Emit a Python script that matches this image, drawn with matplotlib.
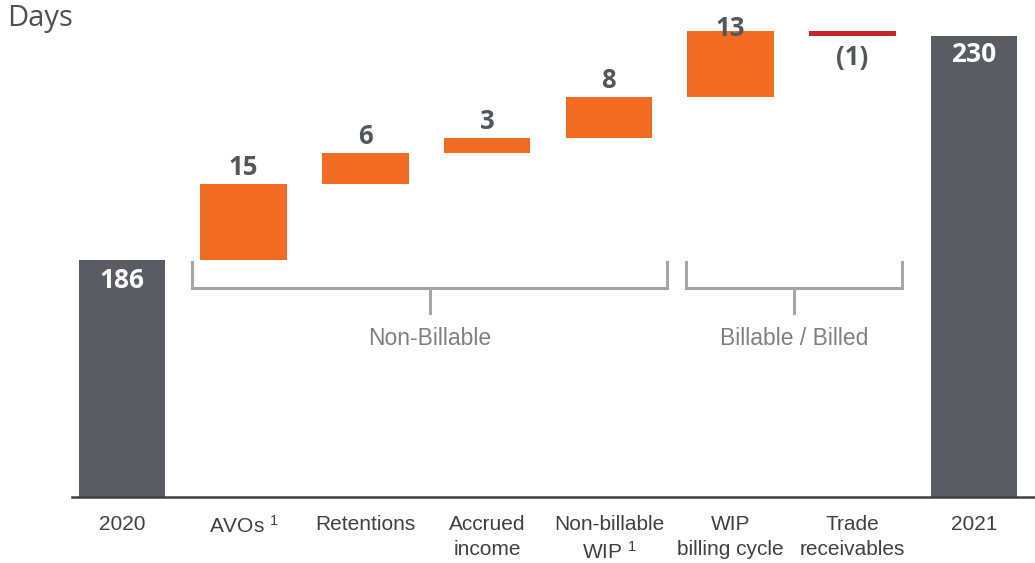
import numpy as np
import matplotlib.pyplot as plt

# data
categories = ['2020', 'AVOs $^{1}$', 'Retentions', 'Accrued\nincome', 'Non-billable\nWIP $^{1}$',
              'WIP\nbilling cycle', 'Trade\nreceivables', '2021']
start_value = 186
deltas = [15, 6, 3, 8, 13, -1]
end_value = 230
groups = ['Non-Billable', 'Billable / Billed']

# bracket extents (layout, in x data units)
bracket_x = [(0.575, 4.48), (4.63, 6.41)]

plt.rcParams['font.family'] = ['Liberation Sans', 'DejaVu Sans']
plt.rcParams['mathtext.default'] = 'regular'

DARK = '#5b5c63'
ORANGE = '#f26b22'
RED = '#c1272d'
LABEL = '#55565c'

fig = plt.figure(figsize=(10.35, 5.63), dpi=100)
ax = fig.add_axes([0.0696, 0.1172, 0.9304, 0.8828])

x = np.arange(len(categories))
width = 0.71
ymin, ymax = 139.5, 237.1

# totals
ax.bar(x[0], start_value - ymin, bottom=ymin, width=width, color=DARK)
ax.bar(x[-1], end_value - ymin, bottom=ymin, width=width, color=DARK)
ax.text(x[0], start_value - 3.9, str(start_value), ha='center', va='center',
        color='white', fontsize=19, fontweight='bold', family='Open Sans')
ax.text(x[-1], end_value - 3.7, str(end_value), ha='center', va='center',
        color='white', fontsize=19, fontweight='bold', family='Open Sans')

# increments
level = start_value
for i, d in enumerate(deltas):
    xi = x[i + 1]
    if d >= 0:
        ax.bar(xi, d, bottom=level, width=width, color=ORANGE)
        ly = min(level + d + 3.2, ymax - 5.5)
        ax.text(xi, ly, str(d), ha='center', va='center', color=LABEL,
                fontsize=18.5, fontweight='bold', family='Open Sans')
    else:
        ax.bar(xi, d, bottom=level, width=width, color=RED)
        ax.text(xi, level + d - 4.2, '(%d)' % abs(d), ha='center', va='center', color=LABEL,
                fontsize=18.5, fontweight='bold', family='Open Sans')
    level += d

# group brackets
brk = '#a6a6a6'
for name, (x0, x1) in zip(groups, bracket_x):
    xm = (x0 + x1) / 2
    ax.plot([x0, x0, x1, x1], [185.7, 180.5, 180.5, 185.7], color=brk, lw=2.2,
            solid_joinstyle='miter')
    ax.plot([xm, xm], [180.5, 175.6], color=brk, lw=2.2)
    ax.text(xm, 170.7, name, ha='center', va='center', color='#808080', fontsize=16.5)

ax.set_xlim(-0.41, 7.5)
ax.set_ylim(ymin, ymax)
ax.set_xticks(x)
ax.set_xticklabels(categories, fontsize=15, color='#404040', va='top', linespacing=1.4)
ax.tick_params(axis='x', length=0, pad=13)
ax.set_yticks([])
for s in ['top', 'right', 'left']:
    ax.spines[s].set_visible(False)
ax.spines['bottom'].set_color('#404040')
ax.spines['bottom'].set_linewidth(1.8)

fig.text(0.007, 0.968, 'Days', ha='left', va='center', fontsize=21, color='#505050',
         family='Open Sans')

fig.savefig('out.png', dpi=100)
